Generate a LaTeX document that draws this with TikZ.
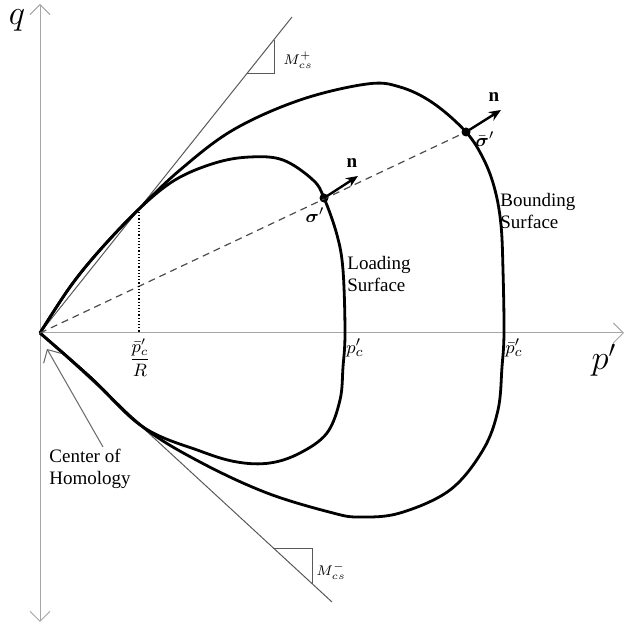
\documentclass[tikz,border=0pt]{standalone}
\usepackage{amsmath}
\usepackage{fontspec}
\setmainfont{Liberation Serif}
\usetikzlibrary{arrows.meta, positioning, calc}

\begin{document}
\begin{tikzpicture}[x=0.5pt, y=-0.5pt,
		axis/.style={gray!70, line width=0.5pt},
		tangent/.style={black!65, line width=0.5pt},
		surface/.style={black, line width=1.4pt, line join=round},
		normal/.style={-{Stealth[length=6pt, width=5pt]}, line width=1.2pt},
		stress/.style={circle, fill=black, inner sep=0pt, minimum size=4.5pt},
		lbl/.style={font=\fontsize{9.5}{11}\selectfont, inner sep=1pt, align=left}
		]
		
		\useasboundingbox (0,0) rectangle (633,625);
		
		% --- ejes ---
		\coordinate (O) at (40,333);
		\coordinate (qtop) at (40,4);
		\coordinate (qbot) at (40,622);
		\coordinate (pend) at (624,333);
		\draw[axis, {Straight Barb[length=5pt]}-{Straight Barb[length=5pt]}] (qbot) -- (qtop);
		\draw[axis, -{Straight Barb[length=5pt]}] (O) -- (pend);
		\node[font=\LARGE, inner sep=0pt] (qlbl) at (17,20) {$q$};
		\node[font=\LARGE, inner sep=0pt] (plbl) at (604,360) {$p'$};
		
		% --- lineas de estado critico ---
		\coordinate (Mp) at (292,17);
		\coordinate (Mm) at (332,602);
		\draw[tangent] (O) -- (Mp);
		\draw[tangent] (O) -- (Mm);
		\draw[tangent] (247,74) -- (274,74) -- (274,40);
		\draw[tangent] (273,549) -- (312,549) -- (312,584);
		\node[lbl, font=\scriptsize, anchor=west] (Mplbl) at (281,60) {$M_{cs}^{+}$};
		\node[lbl, font=\scriptsize, anchor=west] (Mmlbl) at (314,571) {$M_{cs}^{-}$};
		
		% --- superficie limite ---
		\draw[surface] plot[smooth, tension=0.6] coordinates {
			(40,333) (70,287) (100,250) (139,209) (180,170) (233,130) (300,100)
			(367,84) (400,87) (433,103) (466,132) (484,160) (495,190) (501,225)
			(503,270) (504,333) (502,367) (498,410) (483,450) (450,490) (400,513)
			(360,517) (333,513) (267,493) (200,462) (143,427) (90,377) (40,333)};
		
		% --- superficie de carga ---
		\draw[surface] plot[smooth, tension=0.6] coordinates {
			(40,333) (70,287) (100,250) (139,209) (175,180) (215,163) (250,157)
			(283,160) (313,180) (324,198) (337,235) (343,270) (345,333) (343,367)
			(340,400) (327,433) (300,453) (270,463) (237,462) (200,451) (143,427)
			(90,377) (40,333)};
		
		% --- tensiones y normales ---
		\node[stress] (sig) at (324,198) {};
		\node[stress] (sigbar) at (466,132) {};
		\coordinate (nsig) at (358,176);
		\coordinate (nsigbar) at (501,110);
		\draw[dashed, dash pattern=on 3.5pt off 2.5pt, line width=0.6pt, black!70] (O) -- (sigbar);
		\draw[normal] (sig.center) -- (nsig);
		\draw[normal] (sigbar.center) -- (nsigbar);
		\node[lbl] (nlbl) at (352,163) {$\mathbf{n}$};
		\node[lbl] (nbarlbl) at (494,97) {$\mathbf{n}$};
		\node[lbl] (siglbl) at (315,215) {$\boldsymbol{\sigma}'$};
		\node[lbl] (sigbarlbl) at (485,139) {$\bar{\boldsymbol{\sigma}}'$};
		
		% --- presiones de preconsolidacion ---
		\coordinate (tp) at (139,212);
		\draw[densely dotted, line width=0.6pt] (tp) -- (tp |- O);
		\node[lbl, anchor=north, font=\small] (pcR) at (140,336) {$\dfrac{\bar{p}'_c}{R}$};
		\node[lbl, anchor=north west] (pc) at (344,336) {$p'_c$};
		\node[lbl, anchor=north west] (pcbar) at (503,336) {$\bar{p}'_c$};
		
		% --- etiquetas ---
		\node[lbl, anchor=west] (load) at (345,274) {Loading\\Surface};
		\node[lbl, anchor=west] (bound) at (498,211) {Bounding\\Surface};
		\node[lbl, anchor=north west] (coh) at (47,447) {Center of\\Homology};
		\coordinate (cohtip) at (47,349);
		\draw[axis, black!60, -{Straight Barb[length=5pt]}] ($(coh.north west)+(56,0)$) -- (cohtip);
		
	\end{tikzpicture}
\end{document}
